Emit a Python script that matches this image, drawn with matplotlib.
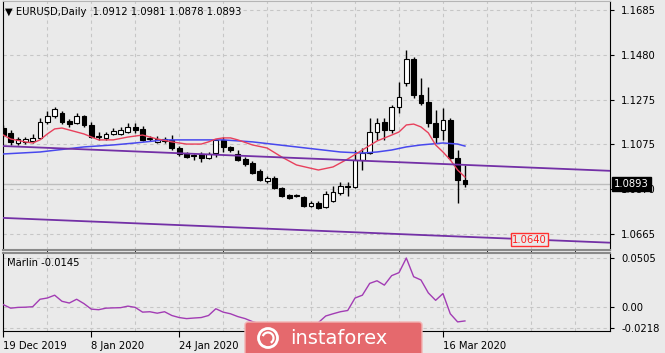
import numpy as np
import matplotlib.pyplot as plt
from matplotlib.ticker import MultipleLocator
from matplotlib.patches import FancyBboxPatch, Circle, Arc

# EURUSD daily candles, bar 0 = 19 Dec 2019 ... bar 63 = 19 Mar 2020
opens = [1.1148, 1.1126, 1.1080, 1.1085, 1.1089, 1.1103, 1.1175, 1.1203, 1.1216, 1.1180,
         1.1171, 1.1203, 1.1162, 1.1112, 1.1103, 1.1121, 1.1121, 1.1130, 1.1153, 1.1144,
         1.1098, 1.1085, 1.1089, 1.1094, 1.1057, 1.1034, 1.1025, 1.1030, 1.1012, 1.1034,
         1.1094, 1.1062, 1.1030, 1.1007, 1.0989, 1.0952, 1.0907, 1.0921, 1.0875, 1.0843,
         1.0843, 1.0834, 1.0793, 1.0807, 1.0789, 1.0816, 1.0852, 1.0880, 1.0880, 1.1003,
         1.1034, 1.1130, 1.1175, 1.1139, 1.1244, 1.1353, 1.1462, 1.1298, 1.1266, 1.1171,
         1.1139, 1.1185, 1.1012, 1.0912]
highs = [1.1162, 1.1139, 1.1107, 1.1107, 1.1121, 1.1194, 1.1226, 1.1244, 1.1226, 1.1189,
         1.1216, 1.1207, 1.1175, 1.1130, 1.1130, 1.1148, 1.1153, 1.1171, 1.1171, 1.1157,
         1.1112, 1.1112, 1.1107, 1.1116, 1.1066, 1.1039, 1.1030, 1.1039, 1.1039, 1.1098,
         1.1107, 1.1066, 1.1048, 1.1016, 1.0998, 1.0962, 1.0930, 1.0930, 1.0880, 1.0848,
         1.0848, 1.0839, 1.0816, 1.0816, 1.0862, 1.0884, 1.0903, 1.0903, 1.1048, 1.1057,
         1.1194, 1.1194, 1.1194, 1.1253, 1.1357, 1.1503, 1.1471, 1.1376, 1.1335, 1.1230,
         1.1239, 1.1194, 1.1048, 1.0981]
lows = [1.1107, 1.1071, 1.1071, 1.1075, 1.1080, 1.1098, 1.1166, 1.1194, 1.1166, 1.1153,
        1.1166, 1.1153, 1.1103, 1.1094, 1.1094, 1.1116, 1.1116, 1.1126, 1.1126, 1.1089,
        1.1089, 1.1080, 1.1080, 1.1048, 1.1021, 1.1012, 1.1003, 1.0993, 1.1007, 1.1016,
        1.1039, 1.1039, 1.0998, 1.0975, 1.0939, 1.0907, 1.0898, 1.0871, 1.0834, 1.0825,
        1.0834, 1.0789, 1.0789, 1.0780, 1.0784, 1.0812, 1.0843, 1.0839, 1.0875, 1.0957,
        1.1030, 1.1094, 1.1094, 1.1126, 1.1216, 1.1339, 1.1285, 1.1253, 1.1153, 1.1080,
        1.1094, 1.1003, 1.0807, 1.0878]
closes = [1.1116, 1.1085, 1.1098, 1.1098, 1.1103, 1.1175, 1.1203, 1.1235, 1.1175, 1.1166,
          1.1203, 1.1162, 1.1107, 1.1107, 1.1121, 1.1135, 1.1139, 1.1153, 1.1139, 1.1094,
          1.1103, 1.1098, 1.1098, 1.1057, 1.1030, 1.1016, 1.1021, 1.1012, 1.1030, 1.1094,
          1.1062, 1.1048, 1.1003, 1.0984, 1.0943, 1.0912, 1.0921, 1.0875, 1.0839, 1.0830,
          1.0839, 1.0793, 1.0807, 1.0784, 1.0848, 1.0857, 1.0884, 1.0884, 1.1003, 1.1034,
          1.1130, 1.1171, 1.1139, 1.1244, 1.1289, 1.1462, 1.1298, 1.1262, 1.1171, 1.1107,
          1.1185, 1.1012, 1.0912, 1.0893]

# moving averages
fast_bars = [0, 1, 3, 4, 5, 6, 7, 8, 9, 10, 11, 13, 15, 17, 19, 21, 23, 25, 27, 28, 29, 30,
             31, 32, 34, 36, 38, 40, 43, 45, 47, 49, 51, 53, 54, 55, 56, 57, 58, 59, 60, 61,
             62, 63]
fast_ma = [1.1116, 1.1098, 1.1085, 1.1080, 1.1094, 1.1121, 1.1144, 1.1148, 1.1139, 1.1130,
           1.1121, 1.1094, 1.1094, 1.1107, 1.1116, 1.1098, 1.1085, 1.1075, 1.1075, 1.1085,
           1.1098, 1.1103, 1.1103, 1.1094, 1.1071, 1.1057, 1.1016, 1.0980, 1.0957, 1.0971,
           1.1007, 1.1048, 1.1089, 1.1116, 1.1130, 1.1162, 1.1166, 1.1153, 1.1126, 1.1071,
           1.1039, 1.1003, 1.0957, 1.0925]
slow_bars = [0, 5, 11, 15, 18, 22, 30, 34, 40, 46, 49, 51, 53, 55, 57, 60, 62, 63]
slow_ma = [1.1030, 1.1039, 1.1062, 1.1071, 1.1080, 1.1094, 1.1094, 1.1085, 1.1062, 1.1039,
           1.1034, 1.1039, 1.1048, 1.1062, 1.1071, 1.1080, 1.1075, 1.1066]

# channel lines (anchor bar, price)
trend_bars = [0, 83]
trend_upper = [1.1066, 1.0953]
trend_lower = [1.0739, 1.0626]

marlin = [0.0023, -0.0013, -0.0005, -0.0003, 0.0002, 0.0079, 0.0092, 0.0121, 0.0058, 0.0040,
          0.0079, 0.0034, -0.0023, -0.0029, -0.0013, -0.0010, -0.0008, 0.0008, -0.0005, -0.0054,
          -0.0050, -0.0065, -0.0050, -0.0089, -0.0110, -0.0121, -0.0115, -0.0110, -0.0089, -0.0019,
          -0.0054, -0.0071, -0.0100, -0.0121, -0.0152, -0.0175, -0.0195, -0.0210, -0.0218, -0.0212,
          -0.0200, -0.0190, -0.0185, -0.0162, -0.0094, -0.0071, -0.0050, -0.0037, 0.0092, 0.0121,
          0.0243, 0.0270, 0.0225, 0.0323, 0.0354, 0.0505, 0.0312, 0.0278, 0.0145, 0.0068,
          0.0138, -0.0071, -0.0155, -0.0145]

price_ticks = [1.0665, 1.0870, 1.1075, 1.1275, 1.1480, 1.1685]
marlin_ticks = [-0.0218, 0.0, 0.0505]
marlin_labels = ['-0.0218', '0.00', '0.0505']
date_bars = [0, 12, 24, 36, 48, 60]
# labels at bars 36 and 48 sit under the watermark in the original
date_labels = ['19 Dec 2019', '8 Jan 2020', '24 Jan 2020', '', '', '16 Mar 2020']
level_price = 1.0640
level_bar = 71.8

BG = '#eaeaea'
GRID = '#c6c6c6'
FS = 7.2
plt.rcParams['font.family'] = ['DejaVu Sans']

fig = plt.figure(figsize=(6.65, 3.53), dpi=100, facecolor=BG)
ax = fig.add_axes([3/665, 1 - 250/353, 607/665, 249/353], facecolor=BG)
ax2 = fig.add_axes([3/665, 1 - 331/353, 607/665, 78/353], facecolor=BG, sharex=ax)

x = np.arange(len(opens))
o = np.array(opens); c = np.array(closes)
h = np.array(highs); l = np.array(lows)

#candles
ax.vlines(x, l, h, color='black', lw=1, zorder=3)
body_lo = np.minimum(o, c)
body_h = np.maximum(np.abs(c - o), 0.00006)
cols = np.where(c >= o, 'white', 'black')
ax.bar(x, body_h, bottom=body_lo, width=0.66, color=cols, edgecolor='black',
       linewidth=0.8, zorder=4)

#indicators
ax.plot(slow_bars, slow_ma, color='#4848ee', lw=1.1, zorder=5)
ax.plot(fast_bars, fast_ma, color='#e8405c', lw=1.0, zorder=5)
ax.plot(trend_bars, trend_upper, color='#7330a6', lw=1.3, zorder=5)
ax.plot(trend_bars, trend_lower, color='#7330a6', lw=1.3, zorder=5)
ax.axhline(closes[-1], color='#bdbdbd', lw=1, zorder=1)

ax.set_xlim(-0.05, 82.8)
ax.set_ylim(1.0593, 1.1726)
ax.yaxis.tick_right()
ax.set_yticks(price_ticks)
ax.set_yticklabels(['%.4f' % v for v in price_ticks])
ax.tick_params(axis='y', length=3, pad=5, labelsize=FS, colors='black')
ax.tick_params(axis='x', length=0, labelbottom=False)
ax.xaxis.set_minor_locator(MultipleLocator(6))
ax.grid(True, which='both', color=GRID, ls=(0, (3, 3)), lw=0.8)
ax.set_axisbelow(True)

ax.text(level_bar, level_price, '%.4f' % level_price, color='#ff2020', fontsize=FS,
        ha='center', va='center', zorder=7,
        bbox=dict(boxstyle='square,pad=0.15', fc=BG, ec='#ff3030', lw=1))
ax.annotate('%.4f' % closes[-1], xy=(1, closes[-1]), xycoords=('axes fraction', 'data'),
            xytext=(3, 0), textcoords='offset points', color='white', fontsize=FS,
            ha='left', va='center', annotation_clip=False, zorder=10,
            bbox=dict(boxstyle='square,pad=0.22', fc='black', ec='black'))

#marlin window
ax2.plot(x, marlin, color='#a23cb4', lw=1.0, zorder=4)
ax2.set_ylim(-0.0249, 0.0557)
ax2.yaxis.tick_right()
ax2.set_yticks(marlin_ticks)
ax2.set_yticklabels(marlin_labels)
ax2.tick_params(axis='y', length=3, pad=5, labelsize=FS, colors='black')
ax2.set_xticks(date_bars)
ax2.set_xticklabels(date_labels)
for lab in ax2.get_xticklabels():
    lab.set_ha('left')
ax2.tick_params(axis='x', which='major', length=4, labelsize=FS, pad=3)
ax2.tick_params(axis='x', which='minor', length=0)
ax2.xaxis.set_minor_locator(MultipleLocator(6))
ax2.grid(True, which='both', color=GRID, ls=(0, (3, 3)), lw=0.8)
ax2.set_axisbelow(True)

for a in (ax, ax2):
    a.spines['left'].set_color('black')
    a.spines['right'].set_color('black')
ax.spines['top'].set_color('#b5b5b5')
ax.spines['bottom'].set_color('#8a8a8a')
ax.spines['bottom'].set_linewidth(1.5)
ax2.spines['top'].set_color('#8a8a8a')
ax2.spines['top'].set_linewidth(1.5)
ax2.spines['bottom'].set_color('black')

#overlay in pixel coords for labels and watermark
ov = fig.add_axes([0, 0, 1, 1], zorder=10)
ov.set_xlim(0, 665)
ov.set_ylim(353, 0)
ov.axis('off')
ov.patch.set_alpha(0)

ov.text(5, 12, '\u25bc EURUSD,Daily  %.4f %.4f %.4f %.4f' % (opens[-1], highs[-1], lows[-1], closes[-1]),
        fontsize=FS, va='center', ha='left')
ov.text(7, 263, 'Marlin %.4f' % marlin[-1], fontsize=FS, va='center', ha='left')

ov.add_patch(FancyBboxPatch((245, 322), 177, 40, boxstyle='round,pad=0,rounding_size=3',
                            fc='#e5696d', ec='#f3b3b3', lw=1))
ov.add_patch(Circle((268, 338), 9.5, fill=False, ec='white', lw=2))
ov.add_patch(Arc((268, 338), 11, 11, theta1=200, theta2=420, ec='white', lw=1.6))
ov.text(290, 339, 'instaforex', color='white', fontsize=14, va='center', ha='left')

plt.savefig('out.png', dpi=100, facecolor=BG)
